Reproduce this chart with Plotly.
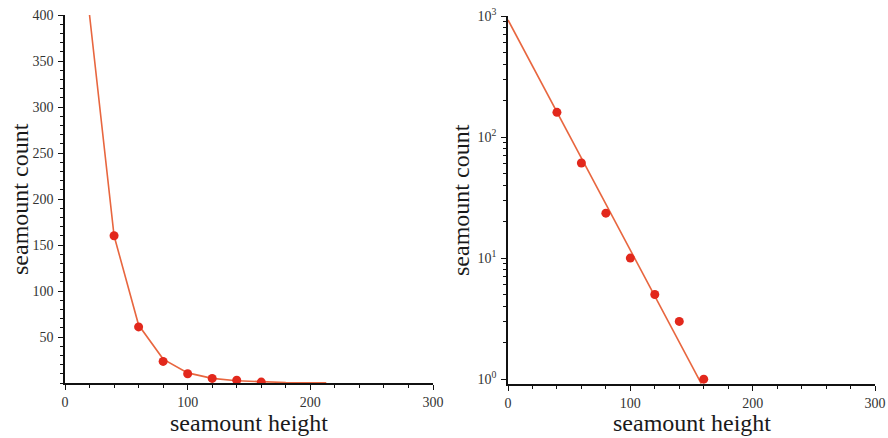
import plotly.graph_objects as go
from plotly.subplots import make_subplots

# Observed seamount counts per height bin
heights = [40, 60, 80, 100, 120, 140, 160]
counts = [160, 61, 23.5, 10, 5, 3, 1]

# Exponential fit, sampled for the linear-scale panel
fit_lin_x = [20, 40, 60, 80, 100, 120, 140, 160, 180, 200, 213]
fit_lin_y = [400, 160, 63, 26, 11, 5, 2.4, 1.1, 0.5, 0.2, 0.1]

# Same fit on the log-scale panel (a straight line)
fit_log_x = [0, 158]
fit_log_y = [927, 0.92]

lin_tickvals = [50, 100, 150, 200, 250, 300, 350, 400]
log_tickvals = [1, 10, 100, 1000]
log_ticktext = ["10<sup>0</sup>", "10<sup>1</sup>", "10<sup>2</sup>", "10<sup>3</sup>"]
log_minor = [m * 10 ** e for e in range(0, 3) for m in range(2, 10)]

LINE_C = "#e8663f"
DOT_C = "#e2281c"
FONT = "Liberation Serif"
W, H = 888, 438

fig = make_subplots(rows=1, cols=2)

fig.add_trace(go.Scatter(x=fit_lin_x, y=fit_lin_y, mode="lines",
                         line=dict(color=LINE_C, width=1.6), hoverinfo="skip"), row=1, col=1)
fig.add_trace(go.Scatter(x=heights, y=counts, mode="markers",
                         marker=dict(color=DOT_C, size=9)), row=1, col=1)
fig.add_trace(go.Scatter(x=fit_log_x, y=fit_log_y, mode="lines",
                         line=dict(color=LINE_C, width=1.6), hoverinfo="skip"), row=1, col=2)
fig.add_trace(go.Scatter(x=heights, y=counts, mode="markers",
                         marker=dict(color=DOT_C, size=9)), row=1, col=2)

def px_x(p):
    return p / W

def px_y(p):
    return 1 - p / H

axis_common = dict(showgrid=False, zeroline=False, showline=True, linecolor="#111",
                   linewidth=1.5, ticks="outside", ticklen=5, tickcolor="#111",
                   tickfont=dict(family=FONT, size=14, color="#333"),
                   layer="below traces", automargin=False)

x_common = dict(axis_common, range=[0, 300], dtick=100, tick0=0,
                minor=dict(ticks="outside", ticklen=3, dtick=20, tick0=0, tickcolor="#111"))

fig.update_xaxes(x_common, domain=[px_x(65), px_x(433)], row=1, col=1)
fig.update_xaxes(x_common, domain=[px_x(508), px_x(875)], row=1, col=2)

fig.update_yaxes(axis_common, range=[0, 400], tickvals=lin_tickvals, ticklabelstandoff=2,
                 minor=dict(ticks="outside", ticklen=3, dtick=10, tick0=0, tickcolor="#111"),
                 domain=[px_y(383), px_y(15)], row=1, col=1)
fig.update_yaxes(axis_common, type="log", range=[-0.04, 3.0], ticklabelstandoff=2,
                 tickvals=log_tickvals, ticktext=log_ticktext,
                 minor=dict(ticks="outside", ticklen=3, tickvals=log_minor, tickcolor="#111"),
                 domain=[px_y(384), px_y(16)], row=1, col=2)

title_font = dict(family=FONT, size=24, color="#1a1a1a")
annotations = [
    dict(text="seamount height", x=px_x(249), y=px_y(423)),
    dict(text="seamount height", x=px_x(692), y=px_y(423)),
    dict(text="seamount count", x=px_x(20), y=px_y(199), textangle=-90),
    dict(text="seamount count", x=px_x(461), y=px_y(200), textangle=-90),
]
for a in annotations:
    fig.add_annotation(xref="paper", yref="paper", showarrow=False,
                       xanchor="center", yanchor="middle", font=title_font, **a)

fig.update_layout(width=W, height=H, margin=dict(l=0, r=0, t=0, b=0),
                  paper_bgcolor="white", plot_bgcolor="white", showlegend=False)

fig.write_html("out.html")
